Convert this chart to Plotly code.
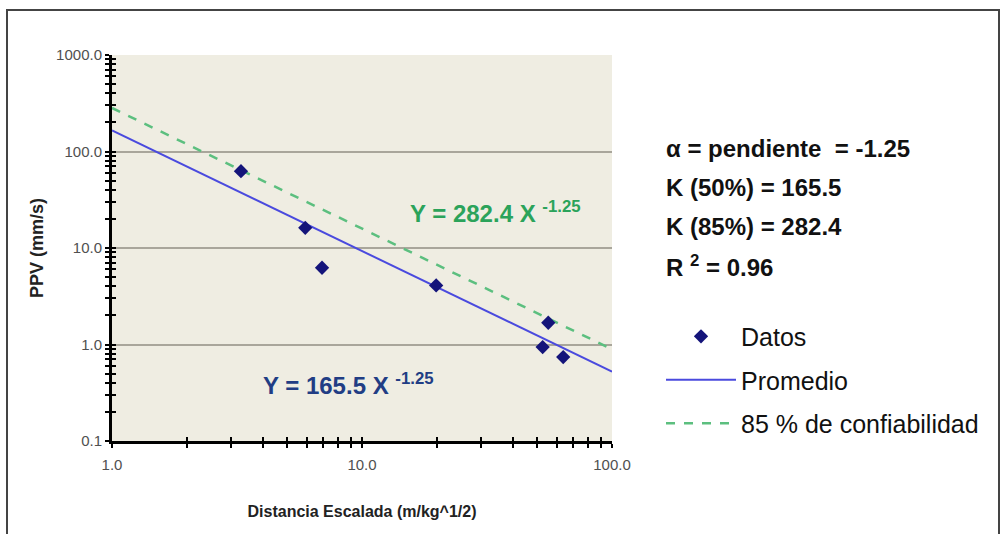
import plotly.graph_objects as go

# Scaled distance (m/kg^1/2) and peak particle velocity (mm/s) of each record
dist_data = [3.28, 5.93, 6.92, 19.8, 55.6, 52.8, 63.8]
ppv_data = [62.5, 16.2, 6.24, 4.09, 1.68, 0.94, 0.74]

# Attenuation law  PPV = K * D^alpha
alpha = -1.25
k_50 = 165.5
k_85 = 282.4
r2 = 0.96
fit_x = [1.0, 100.0]

x_major = [1, 10, 100]
x_major_text = ["1.0", "10.0", "100.0"]
y_major = [0.1, 1, 10, 100, 1000]
y_major_text = ["0.1", "1.0", "10.0", "100.0", "1000.0"]
x_minor = [m * d for d in (1, 10) for m in range(2, 10)]
y_minor = [m * d for d in (0.1, 1, 10, 100) for m in range(2, 10)]

info_lines = [
    "α = pendiente  = -1.25",
    "K (50%) = 165.5",
    "K (85%) = 282.4",
    "R <sup>2</sup> = 0.96",
]

SANS = "Liberation Sans, Arial, sans-serif"

fig = go.Figure()

fig.add_trace(go.Scatter(
    x=fit_x, y=[k_50 * v ** alpha for v in fit_x], mode="lines",
    name="Promedio", legendgroup="b", legendrank=2,
    line=dict(color="#4a4ade", width=2),
))
fig.add_trace(go.Scatter(
    x=fit_x, y=[k_85 * v ** alpha for v in fit_x], mode="lines",
    name="85 % de confiabilidad", legendgroup="c", legendrank=3,
    line=dict(color="#5cbf7f", width=2.5, dash="dash"),
))
fig.add_trace(go.Scatter(
    x=dist_data, y=ppv_data, mode="markers",
    name="Datos", legendgroup="a", legendrank=1,
    marker=dict(symbol="diamond", size=11, color="#14147a"),
))
# carrier for the inside tick overlay axes
fig.add_trace(go.Scatter(x=[1], y=[1], xaxis="x2", yaxis="y2", mode="markers",
                         marker=dict(opacity=0), showlegend=False, hoverinfo="skip"))

axis_common = dict(
    type="log", showline=True, linecolor="black", linewidth=3,
    ticks="outside", ticklen=4, tickwidth=2, tickcolor="black",
    tickfont=dict(family=SANS, size=15, color="#505050"),
    zeroline=False,
)

fig.update_layout(
    width=1001, height=534,
    margin=dict(l=112, r=389, t=55, b=93),
    paper_bgcolor="white",
    plot_bgcolor="#efede2",
    showlegend=True,
    legend=dict(
        x=1.098, y=0.33, xanchor="left", yanchor="top",
        traceorder="grouped", tracegroupgap=8, itemwidth=70,
        font=dict(family=SANS, size=25, color="#111111"),
        bgcolor="rgba(0,0,0,0)",
    ),
    xaxis=dict(
        **axis_common, range=[0, 2],
        tickvals=x_major, ticktext=x_major_text, ticklabelstandoff=4,
        showgrid=False,
        minor=dict(tickvals=x_minor, ticks="outside", ticklen=4,
                   tickwidth=2, tickcolor="black", showgrid=False),
        title=dict(text="<b>Distancia Escalada (m/kg^1/2)</b>",
                   font=dict(family=SANS, size=16, color="#222222"),
                   standoff=34),
    ),
    yaxis=dict(
        **axis_common, range=[-1, 3],
        tickvals=y_major, ticktext=y_major_text,
        showgrid=True, gridcolor="#a9a69b", gridwidth=2,
        minor=dict(tickvals=y_minor, ticks="outside", ticklen=4,
                   tickwidth=2, tickcolor="black", showgrid=False),
        title=dict(text="<b>PPV (mm/s)</b>",
                   font=dict(family=SANS, size=18, color="#222222"),
                   standoff=8),
    ),
    xaxis2=dict(
        type="log", range=[0, 2], overlaying="x", anchor="y2",
        tickvals=x_major + x_minor, ticks="inside", ticklen=4, tickwidth=2,
        tickcolor="black", showticklabels=False, showgrid=False,
        showline=False, zeroline=False,
    ),
    yaxis2=dict(
        type="log", range=[-1, 3], overlaying="y", anchor="x2",
        tickvals=y_major + y_minor, ticks="inside", ticklen=4, tickwidth=2,
        tickcolor="black", showticklabels=False, showgrid=False,
        showline=False, zeroline=False,
    ),
)

# Fitted-equation labels (log10 positions on the log axes)
fig.add_annotation(
    x=1.532, y=1.37, xref="x", yref="y", showarrow=False,
    text=f"<b>Y = {k_85} X <sup>{alpha}</sup></b>",
    font=dict(family=SANS, size=24, color="#2ba35a"),
)
fig.add_annotation(
    x=0.945, y=-0.405, xref="x", yref="y", showarrow=False,
    text=f"<b>Y = {k_50} X <sup>{alpha}</sup></b>",
    font=dict(family=SANS, size=24, color="#213d84"),
)

# Summary of the fit parameters
for i, line in enumerate(info_lines):
    fig.add_annotation(
        x=1.104, y=0.7565 - i * 0.101, xref="paper", yref="paper",
        xanchor="left", yanchor="middle", showarrow=False,
        text=f"<b>{line}</b>",
        font=dict(family=SANS, size=24, color="#111111"),
    )

# Outer frame
fig.add_shape(type="rect", xref="paper", yref="paper",
              x0=-0.21, x1=1.774, y0=-0.3, y1=1.1166,
              line=dict(color="#444444", width=2), layer="above")

fig.write_html("out.html")
